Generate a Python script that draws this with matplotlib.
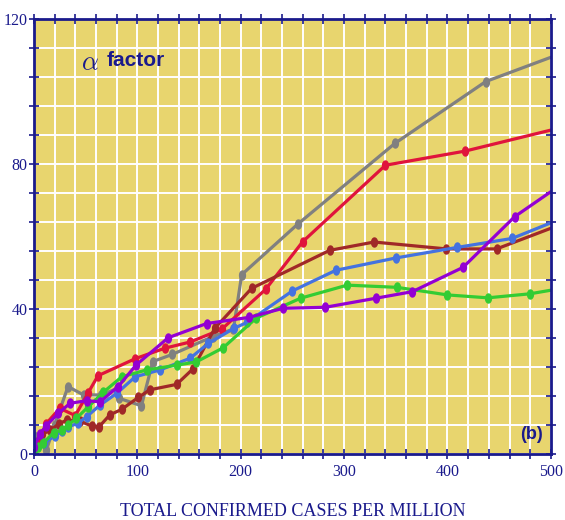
import matplotlib.pyplot as plt
from matplotlib.path import Path
from matplotlib import font_manager
import numpy as np

# cases per million (x) and alpha factor (y) for each series
gray_x = [0, 3, 12, 20, 33, 48, 65, 80, 82, 104, 115, 134, 173, 193, 201, 255, 349, 437, 500]
gray_y = [5, 4, 1, 8, 18.6, 16.3, 16.3, 18, 15.4, 13.3, 25.5, 27.5, 32.4, 34.5, 49.5, 63.4, 85.7, 102.8, 109.5]

red_x = [0, 6, 12, 25, 40, 52.5, 62, 98, 126.7, 151, 181.5, 224, 260, 340, 417, 500]
red_y = [2, 4.5, 8.4, 12.6, 10.6, 16.9, 21.6, 26.3, 29.2, 30.9, 34.4, 45.4, 58.6, 79.7, 83.6, 89.4]

brown_x = [0, 8, 16, 24, 32, 45, 56, 63, 73.5, 84.8, 101, 112, 138, 153.5, 175, 210.5, 286, 329, 399, 447.5, 500]
brown_y = [3, 5.5, 6.5, 8.3, 9.4, 9, 7.7, 7.5, 10.8, 12.3, 15.6, 17.7, 19.2, 23.4, 34.7, 45.7, 56.2, 58.5, 56.6, 56.6, 62.3]

blue_x = [0, 10, 20, 27, 33, 43, 51, 64, 80, 98, 122, 151, 168.6, 193.7, 206, 250, 292, 350, 409, 462.6, 500]
blue_y = [1, 3, 5, 6.2, 7.5, 8.5, 10.3, 13.5, 16.7, 21.3, 23.2, 26.4, 30.5, 34.7, 36.3, 45, 50.7, 54.1, 57, 59.5, 63.8]

green_x = [0, 4, 9, 19, 27, 33, 41, 52.5, 67, 85, 109, 138, 157, 183, 215, 258, 303, 351, 400, 439, 479.5, 500]
green_y = [0, 2, 3, 5.9, 6.6, 8, 9.8, 13, 17, 21.3, 23.2, 24.5, 25.4, 29.3, 37.5, 43, 46.6, 46, 43.9, 43.1, 44.2, 45.2]

purple_x = [0, 6, 11.6, 23.5, 35, 51, 64, 81.5, 99, 130, 167, 208, 241, 282, 331, 366, 415, 465, 500]
purple_y = [2, 5.5, 7.7, 11.2, 14, 14.7, 14.4, 18.6, 24.6, 32.1, 36, 37.7, 40.2, 40.5, 43, 44.8, 51.5, 65.5, 72.4]

series = [
    (gray_x, gray_y, '#808080'),
    (red_x, red_y, '#e0143c'),
    (brown_x, brown_y, '#a02828'),
    (blue_x, blue_y, '#4472e0'),
    (green_x, green_y, '#33cc33'),
    (purple_x, purple_y, '#9400d3'),
]

navy = '#1a1a8c'
plt.rcParams['mathtext.fontset'] = 'cm'

# narrow bold sans for the labels, if there is one
try:
    font_manager.findfont('Liberation Sans Narrow', fallback_to_default=False)
    narrow = 'Liberation Sans Narrow'
except ValueError:
    narrow = 'Liberation Sans'

# tall ellipse marker
t = np.linspace(0, 2 * np.pi, 40)
ellipse = Path(np.column_stack([0.65 * np.cos(t), np.sin(t)]))

fig = plt.figure(figsize=(5.65, 5.2), dpi=100)
ax = fig.add_axes([0.060, 0.127, 0.915, 0.836])
ax.set_facecolor('#e8d56e')

for x, y, c in series:
    ax.plot(x, y, color=c, lw=2.3, marker=ellipse, ms=6.5,
            markevery=slice(0, len(x) - 1), solid_capstyle='round')

ax.set_xlim(0, 500)
ax.set_ylim(0, 120)
ax.set_xticks(range(0, 501, 100))
ax.set_xticks(range(0, 501, 20), minor=True)
ax.set_yticks(range(0, 121, 40))
ax.set_yticks(range(0, 121, 8), minor=True)
ax.grid(which='both', color='white', lw=1.4)
ax.set_axisbelow(True)

for s in ax.spines.values():
    s.set_color(navy)
    s.set_linewidth(2)
ax.tick_params(which='both', direction='inout', top=True, right=True,
               color=navy, width=1.2, length=7,
               labelcolor=navy, labelsize=11.5)
ax.tick_params(axis='y', pad=1)
for lab in ax.get_xticklabels() + ax.get_yticklabels():
    lab.set_family('Liberation Serif')

ax.set_xlabel('TOTAL CONFIRMED CASES PER MILLION', family='Liberation Serif',
              fontsize=13, color=navy, labelpad=17)

ax.text(46, 108, r'$\alpha$', fontsize=19, color=navy, ha='left', va='center')
ax.text(70.5, 108.5, 'factor', fontsize=15, fontweight='bold', color=navy,
        family=narrow, ha='left', va='center')
ax.text(481, 5.5, '(b)', fontsize=13, fontweight='bold', color=navy,
        family=narrow, ha='center', va='center')

fig.savefig('out.png', dpi=100)
